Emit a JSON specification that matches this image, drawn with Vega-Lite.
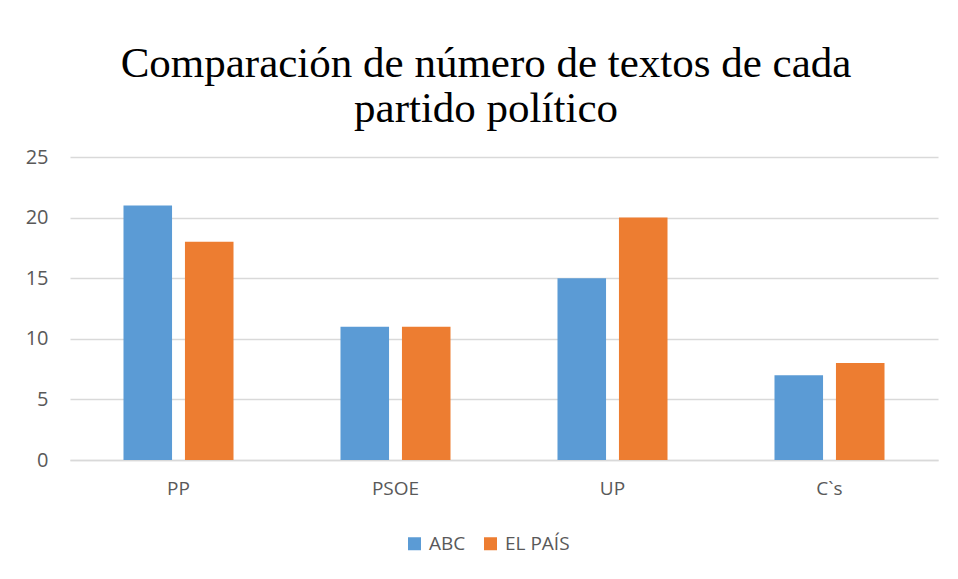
{
  "$schema": "https://vega.github.io/schema/vega-lite/v6.json",
  "width": 868,
  "height": 303,
  "autosize": {"type": "none"},
  "padding": {"left": 70, "top": 157, "right": 20, "bottom": 119},
  "background": "white",
  "title": {
    "text": ["Comparación de número de textos de cada", "partido político"],
    "font": "Liberation Serif",
    "fontSize": 43,
    "fontWeight": "normal",
    "color": "#000000",
    "lineHeight": 45,
    "anchor": "middle",
    "dx": -18,
    "offset": 16
  },
  "data": {
    "values": [
      {"partido": "PP", "medio": "ABC", "textos": 21},
      {"partido": "PP", "medio": "EL PAÍS", "textos": 18},
      {"partido": "PSOE", "medio": "ABC", "textos": 11},
      {"partido": "PSOE", "medio": "EL PAÍS", "textos": 11},
      {"partido": "UP", "medio": "ABC", "textos": 15},
      {"partido": "UP", "medio": "EL PAÍS", "textos": 20},
      {"partido": "C`s", "medio": "ABC", "textos": 7},
      {"partido": "C`s", "medio": "EL PAÍS", "textos": 8}
    ]
  },
  "mark": {"type": "bar"},
  "encoding": {
    "x": {
      "field": "partido",
      "type": "nominal",
      "sort": ["PP", "PSOE", "UP", "C`s"],
      "scale": {"paddingInner": 0.493, "paddingOuter": 0.2465},
      "axis": {
        "title": null,
        "labelAngle": 0,
        "ticks": false,
        "domainColor": "#d9d9d9",
        "domainWidth": 1.3,
        "labelFont": "Open Sans",
        "labelFontSize": 19,
        "labelColor": "#595959",
        "labelPadding": 19
      }
    },
    "xOffset": {
      "field": "medio",
      "type": "nominal",
      "scale": {"paddingInner": 0.21, "paddingOuter": 0}
    },
    "y": {
      "field": "textos",
      "type": "quantitative",
      "scale": {"domain": [0, 25]},
      "axis": {
        "title": null,
        "values": [0, 5, 10, 15, 20, 25],
        "domain": false,
        "ticks": false,
        "gridColor": "#d9d9d9",
        "gridWidth": 1.3,
        "labelFont": "Open Sans",
        "labelFontSize": 20,
        "labelColor": "#595959",
        "labelPadding": 22
      }
    },
    "color": {
      "field": "medio",
      "type": "nominal",
      "scale": {"domain": ["ABC", "EL PAÍS"], "range": ["#5B9BD5", "#ED7D31"]},
      "legend": {
        "title": null,
        "orient": "none",
        "direction": "horizontal",
        "legendX": 335,
        "legendY": 377,
        "symbolType": "square",
        "symbolSize": 169,
        "symbolStrokeWidth": 0,
        "labelFont": "Open Sans",
        "labelFontSize": 19,
        "labelColor": "#595959",
        "columnPadding": 15,
        "labelOffset": 5
      }
    }
  },
  "config": {"view": {"stroke": null}}
}
